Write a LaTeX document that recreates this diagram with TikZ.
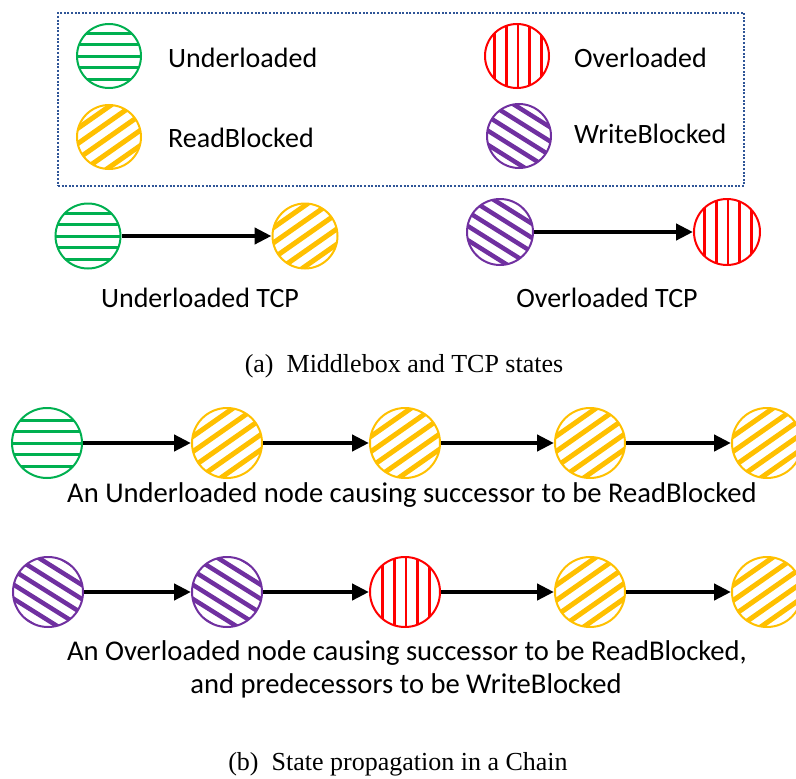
\documentclass[tikz,border=0pt]{standalone}
\usepackage{fontspec}
\setmainfont{Carlito}
\newfontfamily\capfont{Liberation Serif}
\usetikzlibrary{arrows.meta}
\definecolor{ugreen}{HTML}{00B050}
\definecolor{ryellow}{HTML}{FFC000}
\definecolor{ored}{HTML}{FF0000}
\definecolor{wpurple}{HTML}{7030A0}
\definecolor{boxblue}{HTML}{2F5597}
\tikzset{
  x=1pt, y=1pt,
  state/.style={circle, line width=2pt, inner sep=0pt, minimum size=#1},
  state/.default=64pt,
  under/.style={state=#1, draw=ugreen,
    path picture={\foreach \k in {-2,...,2}
      \draw[ugreen, line width=3pt]
        ([yshift=\k*11.5pt]path picture bounding box.center) ++(-40,0) -- ++(80,0);}},
  under/.default=64pt,
  over/.style={state=#1, draw=ored,
    path picture={\foreach \k in {-2,...,2}
      \draw[ored, line width=2.5pt]
        ([xshift=\k*11.7pt+1pt]path picture bounding box.center) ++(0,-40) -- ++(0,80);}},
  over/.default=64pt,
  % rising stripes at 35 degrees, period 12.5pt
  rblock/.style={state=#1, draw=ryellow,
    path picture={\foreach \k in {-3,...,3}
      \draw[ryellow, line width=5pt]
        ([shift={({-0.574*\k*12.5},{0.819*\k*12.5})}]path picture bounding box.center)
        ++(-41,-28.7) -- ++(82,57.4);}},
  rblock/.default=64pt,
  % falling stripes at -32 degrees, period 12pt
  wblock/.style={state=#1, draw=wpurple,
    path picture={\foreach \k in {-3,...,3}
      \draw[wpurple, line width=4.5pt]
        ([shift={({0.530*\k*12},{0.848*\k*12})}]path picture bounding box.center)
        ++(-42.4,26.5) -- ++(84.8,-53);}},
  wblock/.default=64pt,
  flow/.style={-{Triangle[length=17pt,width=16pt]}, line width=4.5pt, black},
  lbl/.style={inner sep=0pt, font=\fontsize{28}{33}\selectfont},
  txt/.style={inner sep=0pt, font=\fontsize{28}{33}\selectfont},
  longtxt/.style={inner sep=0pt, font=\fontsize{28.6}{34}\selectfont},
  captext/.style={inner sep=0pt, font=\capfont\fontsize{26}{31}\selectfont},
}
\begin{document}
\begin{tikzpicture}
\useasboundingbox (0,0) rectangle (796,-779);
% legend
\node[draw=boxblue, line width=2.5pt, dash pattern=on 2pt off 1.6pt,
      minimum width=686pt, minimum height=173pt, inner sep=0pt] (legend) at (401,-99.5) {};
\node[under] (lu) at (109,-56) {};
\node[rblock] (lr) at (109,-137) {};
\node[over] (lo) at (517,-56) {};
\node[wblock] (lw) at (519,-136) {};
\node[lbl, anchor=base west] (tu) at (168,-67) {Underloaded};
\node[lbl, anchor=base west] (tr) at (168,-147) {ReadBlocked};
\node[lbl, anchor=base west] (to) at (574,-67) {Overloaded};
\node[lbl, anchor=base west] (tw) at (574,-143) {WriteBlocked};
% TCP states
\node[under=65pt] (a1) at (88,-236) {};
\node[rblock=65pt] (a2) at (305,-236) {};
\draw[flow] (a1) -- (a2);
\node[wblock=66pt] (a3) at (500,-232) {};
\node[over=66pt] (a4) at (727,-232) {};
\draw[flow] (a3) -- (a4);
\node[txt, anchor=base] (ta1) at (200,-307) {Underloaded TCP};
\node[txt, anchor=base] (ta2) at (607,-307) {Overloaded TCP};
\node[captext, anchor=base] (capa) at (404,-372) {(a)\ \ Middlebox and TCP states};
% chain with an underloaded head
\node[under=70pt] (b1) at (47,-443) {};
\node[rblock=70pt] (b2) at (227,-443) {};
\node[rblock=70pt] (b3) at (405,-443) {};
\node[rblock=70pt] (b4) at (590,-443) {};
\node[rblock=70pt] (b5) at (767,-443) {};
\foreach \i/\j in {b1/b2,b2/b3,b3/b4,b4/b5} \draw[flow] (\i) -- (\j);
\node[longtxt, anchor=base] (tb) at (412,-502) {An Underloaded node causing successor to be ReadBlocked};
% chain with an overloaded middle node
\node[wblock=70pt] (c1) at (48,-592) {};
\node[wblock=70pt] (c2) at (227,-592) {};
\node[over=70pt] (c3) at (405,-592) {};
\node[rblock=70pt] (c4) at (590,-592) {};
\node[rblock=70pt] (c5) at (767,-592) {};
\foreach \i/\j in {c1/c2,c2/c3,c3/c4,c4/c5} \draw[flow] (\i) -- (\j);
\node[longtxt, anchor=base] (tc1) at (407,-660) {An Overloaded node causing successor to be ReadBlocked,};
\node[longtxt, anchor=base] (tc2) at (406,-693) {and predecessors to be WriteBlocked};
\node[captext, anchor=base] (capb) at (398,-770) {(b)\ \ State propagation in a Chain};
\end{tikzpicture}
\end{document}
